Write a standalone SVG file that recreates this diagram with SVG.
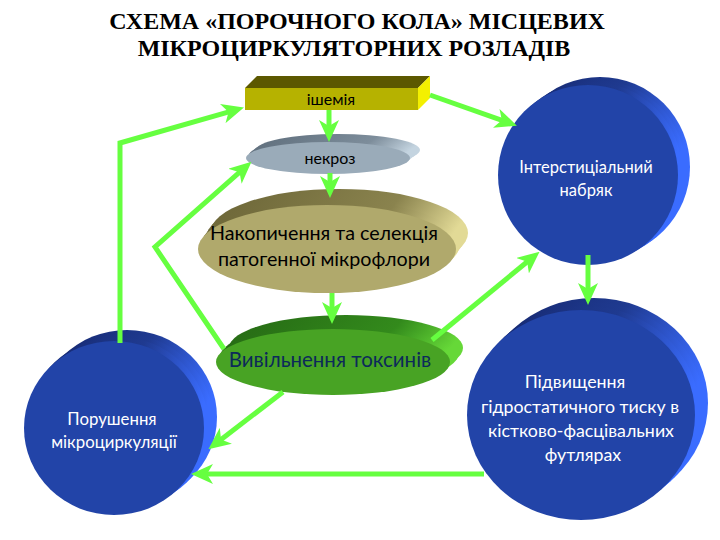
<svg xmlns="http://www.w3.org/2000/svg" width="720" height="540" viewBox="0 0 720 540">
<defs>
<linearGradient id="gGrey" x1="0" y1="0" x2="1" y2="0.3"><stop offset="0" stop-color="#5e6d7b"/><stop offset="0.7" stop-color="#7d8d9b"/><stop offset="1" stop-color="#c4d4e0"/></linearGradient>
<linearGradient id="gKhaki" x1="0" y1="0" x2="1" y2="0.3"><stop offset="0" stop-color="#6a6436"/><stop offset="0.7" stop-color="#8a834e"/><stop offset="1" stop-color="#e2da96"/></linearGradient>
<linearGradient id="gGreen" x1="0" y1="0" x2="1" y2="0.3"><stop offset="0" stop-color="#256814"/><stop offset="0.7" stop-color="#338a1c"/><stop offset="1" stop-color="#66d838"/></linearGradient>
<linearGradient id="gBlue" x1="0" y1="0" x2="1" y2="0.3"><stop offset="0" stop-color="#14256a"/><stop offset="0.6" stop-color="#1f3a90"/><stop offset="1" stop-color="#3a6cff"/></linearGradient>
<marker id="ah" markerUnits="userSpaceOnUse" markerWidth="22" markerHeight="20" viewBox="0 0 22 20" refX="10" refY="10" orient="auto">
<path d="M0,0 L22,10 L0,20 L6,10 Z" fill="#66ff40"/>
</marker>
</defs>
<style>
.title{font-family:"Liberation Serif",serif;font-weight:bold;font-size:24px;fill:#000;text-anchor:middle}
.lbl{font-family:Lato,"Noto Sans",sans-serif;text-anchor:middle}
.dark{fill:#000}
.white{fill:#fff}
.con{fill:none;stroke:#66ff40;stroke-width:5;marker-end:url(#ah)}
.eg{fill:url(#gGrey)}
.ek{fill:url(#gKhaki)}
.en{fill:url(#gGreen)}
.eb{fill:url(#gBlue)}
</style>
<rect width="720" height="540" fill="#fff"/>
<text class="title" x="357" y="29">СХЕМА «ПОРОЧНОГО КОЛА» МІСЦЕВИХ</text>
<text class="title" x="354" y="56">МІКРОЦИРКУЛЯТОРНИХ РОЗЛАДІВ</text>

<g id="ischemia">
<polygon points="245,88 257,76 430,76 418,88" fill="#5c5800"/>
<polygon points="418,88 430,76 430,98 418,110" fill="#f4f000"/>
<rect x="245" y="88" width="173" height="22" fill="#b6b200"/>
<text class="lbl dark" x="331" y="105" font-size="16">ішемія</text>
</g>

<g id="necrosis">
<ellipse class="eg" cx="338" cy="150" rx="82" ry="16"/>
<ellipse class="eg" cx="335" cy="152" rx="82" ry="16"/>
<ellipse class="eg" cx="331" cy="155" rx="82" ry="16"/>
<ellipse cx="328" cy="158" rx="82" ry="16" fill="#9aabb9"/>
<text class="lbl dark" x="330" y="164" font-size="16">некроз</text>
</g>

<g id="accumulation">
<ellipse class="ek" cx="339" cy="233" rx="129" ry="44"/>
<ellipse class="ek" cx="335" cy="238" rx="129" ry="44"/>
<ellipse class="ek" cx="331" cy="244" rx="129" ry="44"/>
<ellipse cx="327" cy="249" rx="129" ry="44" fill="#b0a96c"/>
<text class="lbl dark" x="324" y="240" font-size="19.7">Накопичення та селекція</text>
<text class="lbl dark" x="324" y="266" font-size="19.7">патогенної мікрофлори</text>
</g>

<g id="toxins">
<ellipse class="en" cx="346" cy="348" rx="117" ry="33"/>
<ellipse class="en" cx="342" cy="353" rx="117" ry="33"/>
<ellipse class="en" cx="337" cy="357" rx="117" ry="33"/>
<ellipse cx="333" cy="362" rx="117" ry="33" fill="#48a324"/>
<text class="lbl" x="330" y="367" font-size="20.5" fill="#0c2a5a">Вивільнення токсинів</text>
</g>

<g id="edema">
<circle class="eb" cx="600" cy="167" r="90"/>
<circle class="eb" cx="596" cy="170" r="90"/>
<circle class="eb" cx="592" cy="172" r="90"/>
<circle cx="588" cy="175" r="90" fill="#2244a8"/>
<text class="lbl white" x="586" y="173" font-size="16.5">Інтерстиціальний</text>
<text class="lbl white" x="586" y="196" font-size="16.5">набряк</text>
</g>

<g id="pressure">
<ellipse class="eb" cx="594" cy="403" rx="114" ry="105"/>
<ellipse class="eb" cx="590" cy="407" rx="114" ry="105"/>
<ellipse class="eb" cx="585" cy="411" rx="114" ry="105"/>
<ellipse cx="581" cy="415" rx="114" ry="105" fill="#2244a8"/>
<text class="lbl white" x="575" y="388" font-size="17.8">Підвищення</text>
<text class="lbl white" x="580" y="413" font-size="17.8">гідростатичного тиску в</text>
<text class="lbl white" x="581" y="437" font-size="17.8">кістково-фасцівальних</text>
<text class="lbl white" x="583" y="461" font-size="17.8">футлярах</text>
</g>

<g id="microcirculation">
<ellipse class="eb" cx="127" cy="417" rx="90" ry="87"/>
<ellipse class="eb" cx="123" cy="421" rx="90" ry="87"/>
<ellipse class="eb" cx="118" cy="424" rx="90" ry="87"/>
<ellipse cx="114" cy="428" rx="90" ry="87" fill="#2244a8"/>
<text class="lbl white" x="112" y="425" font-size="16.8">Порушення</text>
<text class="lbl white" x="114" y="448" font-size="16.8">мікроциркуляції</text>
</g>

<g id="connectors">
<path class="con" d="M329,110 L329,130"/>
<path class="con" d="M330,173 L330,186"/>
<path class="con" d="M332,293 L332,312"/>
<path class="con" d="M430,95 L505.6,121.7"/>
<path class="con" d="M588,255 L588,293"/>
<path class="con" d="M484,474 L203,474"/>
<path class="con" d="M283,392 L217.9,441.9"/>
<path class="con" d="M432,340 L530.3,259.3"/>
<path class="con" d="M120,343 L120,143 L232.4,110.8"/>
<path class="con" d="M224,349 L155,247 L242.5,169.6"/>
</g>
</svg>
